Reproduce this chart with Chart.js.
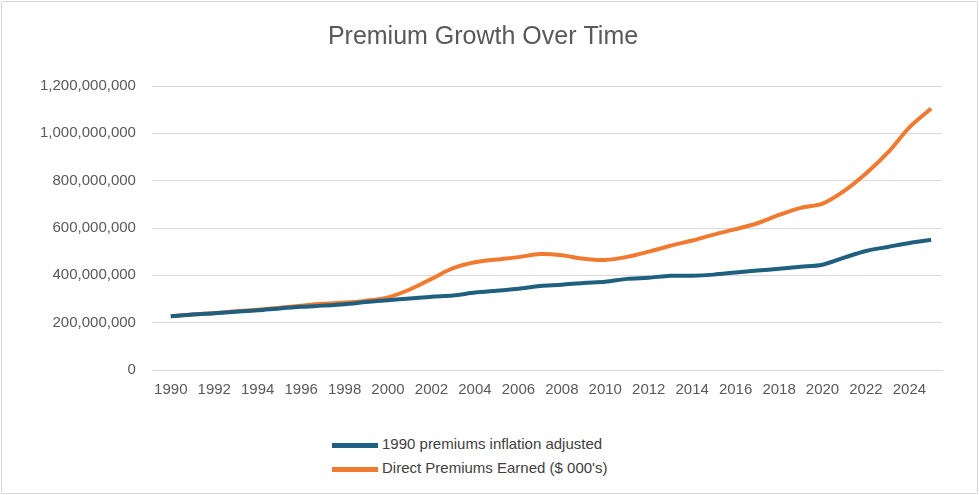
<!DOCTYPE html>
<html>
<head>
<meta charset="utf-8">
<script src="https://cdn.jsdelivr.net/npm/chart.js@4"></script>
<style>
  body { margin: 0; background: #fff; font-family: 'Liberation Sans', Arial, sans-serif; }
  #wrap { position: absolute; left: 1px; top: 1px; width: 975px; height: 491px; border: 1px solid #d9d9d9; }
  #chartBox { position: absolute; left: 0; top: 0; width: 975px; height: 400px; }
  #legend { position: absolute; left: 330px; top: 430px; color: #404040; font-size: 15px; }
  #legend div { height: 24px; line-height: 24px; }
  #legend span { display: inline-block; width: 46px; height: 5px; vertical-align: middle; margin-right: 4px; }
</style>
</head>
<body>
<div id="wrap">
  <div id="chartBox"><canvas id="c"></canvas></div>
  <div id="legend"></div>
</div>
<script>
const years = [];
for (let y = 1990; y <= 2025; y++) years.push(String(y));

// values in millions of $
const adjustedM = [227, 235, 240, 246, 252, 260, 267, 272, 278, 287, 295, 302, 310, 315, 327, 335, 343, 355, 360, 368, 373, 385, 390, 398, 398, 403, 412, 420, 428, 436, 445, 475, 503, 520, 537, 550];
const earnedM = [227, 235, 240, 248, 255, 263, 272, 280, 285, 293, 307, 340, 385, 430, 455, 467, 477, 490, 485, 470, 465, 478, 500, 525, 547, 572, 595, 620, 655, 685, 703, 757, 830, 918, 1025, 1105];

const font = "'Liberation Sans', Arial, sans-serif";

const chart = new Chart(document.getElementById('c'), {
    type: 'line',
    data: {
        labels: years,
        datasets: [
            {
                label: '1990 premiums inflation adjusted',
                data: adjustedM.map(v => v * 1e6),
                borderColor: '#1f5f7f',
                backgroundColor: '#1f5f7f',
                borderWidth: 4,
                pointRadius: 0,
                tension: 0.3
            },
            {
                label: "Direct Premiums Earned ($ 000's)",
                data: earnedM.map(v => v * 1e6),
                borderColor: '#f07a30',
                backgroundColor: '#f07a30',
                borderWidth: 4,
                pointRadius: 0,
                tension: 0.3
            }
        ]
    },
    options: {
        responsive: true,
        maintainAspectRatio: false,
        animation: false,
        layout: { padding: { left: 22, right: 35, top: 10, bottom: 0 } },
        plugins: {
            title: {
                display: true,
                text: 'Premium Growth Over Time',
                color: '#595959',
                font: { family: font, size: 25, weight: 'normal' },
                padding: { top: 10, bottom: 34 }
            },
            legend: { display: false }
        },
        scales: {
            x: {
                offset: true,
                grid: { display: false },
                border: { color: '#d9d9d9' },
                ticks: {
                    autoSkip: false,
                    maxRotation: 0,
                    color: '#595959',
                    font: { family: font, size: 15 },
                    callback: (v, i) => (i % 2 === 0 ? years[i] : '')
                }
            },
            y: {
                min: 0,
                max: 1200000000,
                grid: { color: '#d9d9d9' },
                border: { display: false },
                ticks: {
                    stepSize: 200000000,
                    padding: 16,
                    color: '#595959',
                    font: { family: font, size: 15 },
                    callback: v => v.toLocaleString('en-US')
                }
            }
        }
    }
});

const legend = document.getElementById('legend');
chart.data.datasets.forEach(ds => {
    const row = document.createElement('div');
    const sw = document.createElement('span');
    sw.style.background = ds.borderColor;
    row.appendChild(sw);
    row.appendChild(document.createTextNode(ds.label));
    legend.appendChild(row);
});
</script>
</body>
</html>
